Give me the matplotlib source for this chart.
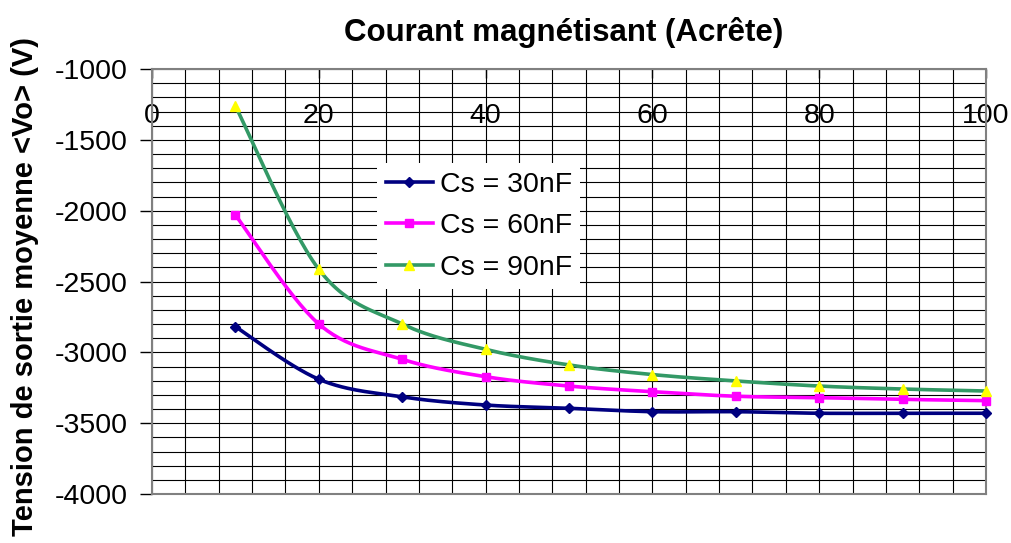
import numpy as np
import matplotlib
matplotlib.use("Agg")
import matplotlib.pyplot as plt
from matplotlib.lines import Line2D
from matplotlib.transforms import blended_transform_factory

plt.rcParams['font.family'] = ['Liberation Sans', 'DejaVu Sans']
plt.rcParams['axes.unicode_minus'] = False

# Data: magnetising current (A crête) vs mean output voltage <Vo> (V)
courant = [10, 20, 30, 40, 50, 60, 70, 80, 90, 100]
vo_30nf = [-2819, -3190, -3314, -3372, -3395, -3419, -3419, -3430, -3430, -3430]
vo_60nf = [-2031, -2800, -3049, -3172, -3238, -3278, -3310, -3320, -3332, -3341]
vo_90nf = [-1261, -2414, -2800, -2979, -3089, -3157, -3202, -3238, -3259, -3273]

labels = ["Cs = 30nF", "Cs = 60nF", "Cs = 90nF"]
x_ticks = [0, 20, 40, 60, 80, 100]
y_ticks = [-4000, -3500, -3000, -2500, -2000, -1500, -1000]

title = "Courant magnétisant (Acrête)"
ylabel = "Tension de sortie moyenne <Vo> (V)"


def smooth(xs, ys, steps=30):
    """Bezier smoothing through every point (Catmull-Rom control points)."""
    pts = np.column_stack([xs, ys]).astype(float)
    out = [pts[0]]
    n = len(pts)
    t = np.linspace(0, 1, steps)[1:]
    for i in range(n - 1):
        p0 = pts[i - 1] if i > 0 else pts[i]
        p1, p2 = pts[i], pts[i + 1]
        p3 = pts[i + 2] if i + 2 < n else pts[i + 1]
        c1 = p1 + (p2 - p0) / 6.0
        c2 = p2 - (p3 - p1) / 6.0
        seg = (((1 - t) ** 3)[:, None] * p1 + (3 * (1 - t) ** 2 * t)[:, None] * c1
               + (3 * (1 - t) * t ** 2)[:, None] * c2 + (t ** 3)[:, None] * p2)
        out.extend(seg)
    out = np.array(out)
    return out[:, 0], out[:, 1]


fig = plt.figure(figsize=(10.11, 5.43), dpi=100)
ax = fig.add_axes([152 / 1011, 1 - 494 / 543, (986 - 152) / 1011, (494 - 69) / 543])

ax.set_xlim(0, 100)
ax.set_ylim(-4000, -1000)

# grid every 4 on x, every 100 on y
ax.set_xticks(x_ticks)
ax.set_xticks(np.arange(0, 101, 4), minor=True)
ax.set_yticks(y_ticks)
ax.set_yticks(np.arange(-4000, -999, 100), minor=True)
ax.grid(True, which='both', color='#000000', linewidth=0.8)
ax.set_axisbelow(True)

ax.tick_params(axis='x', which='major', top=True, bottom=False, labeltop=False,
               labelbottom=False, direction='in', length=6.5, width=1, color='#000000')
ax.tick_params(axis='x', which='minor', top=False, bottom=False)
ax.tick_params(axis='y', which='major', left=True, direction='out', length=8.5,
               width=1, color='#000000', labelsize=20.5, pad=9)
ax.tick_params(axis='y', which='minor', left=False)

for s in ax.spines.values():
    s.set_color('#808080')
    s.set_linewidth(1.5)

# x labels sit inside the plot, just under the top edge, behind the grid
trans = blended_transform_factory(ax.transData, ax.transAxes)
for xv in x_ticks:
    ax.text(xv, (494 - 123) / 425, str(xv), transform=trans, ha='center',
            va='baseline', fontsize=20.5, zorder=0.3)

styles = [
    dict(color='#000080', marker='D', ms=5, mfc='#000080', mec='#000080'),
    dict(color='#FF00FF', marker='s', ms=5.5, mfc='#FF00FF', mec='#FF00FF'),
    dict(color='#339966', marker='^', ms=7.5, mfc='#FFFF00', mec='#FFFF00'),
]
handles = []
for ys, st, lab in zip([vo_30nf, vo_60nf, vo_90nf], styles, labels):
    sx, sy = smooth(courant, ys)
    ax.plot(sx, sy, color=st['color'], lw=2.6, zorder=3, solid_capstyle='round')
    ax.plot(courant, ys, linestyle='none', marker=st['marker'], ms=st['ms'],
            mfc=st['mfc'], mec=st['mec'], zorder=4, clip_on=False)
    handles.append(Line2D([], [], color=st['color'], lw=2.6, marker=st['marker'],
                          ms=st['ms'], mfc=st['mfc'], mec=st['mec']))

leg = ax.legend(handles, labels, loc='upper left',
                bbox_to_anchor=(377 / 1011, 1 - 163 / 543),
                bbox_transform=fig.transFigure, fontsize=20.5, frameon=True,
                fancybox=False, framealpha=1, facecolor='white', edgecolor='none',
                handlelength=1.68, handletextpad=0.22, labelspacing=0.55,
                borderpad=0.3, borderaxespad=0)
leg.set_zorder(5)

fig.text(564 / 1011, 1 - 32 / 543, title, ha='center', va='center',
         fontsize=22.5, fontweight='bold')
fig.text(25 / 1011, 1 - 287 / 543, ylabel, ha='center', va='center',
         rotation=90, fontsize=21, fontweight='bold')

fig.savefig('out.png', dpi=100)
